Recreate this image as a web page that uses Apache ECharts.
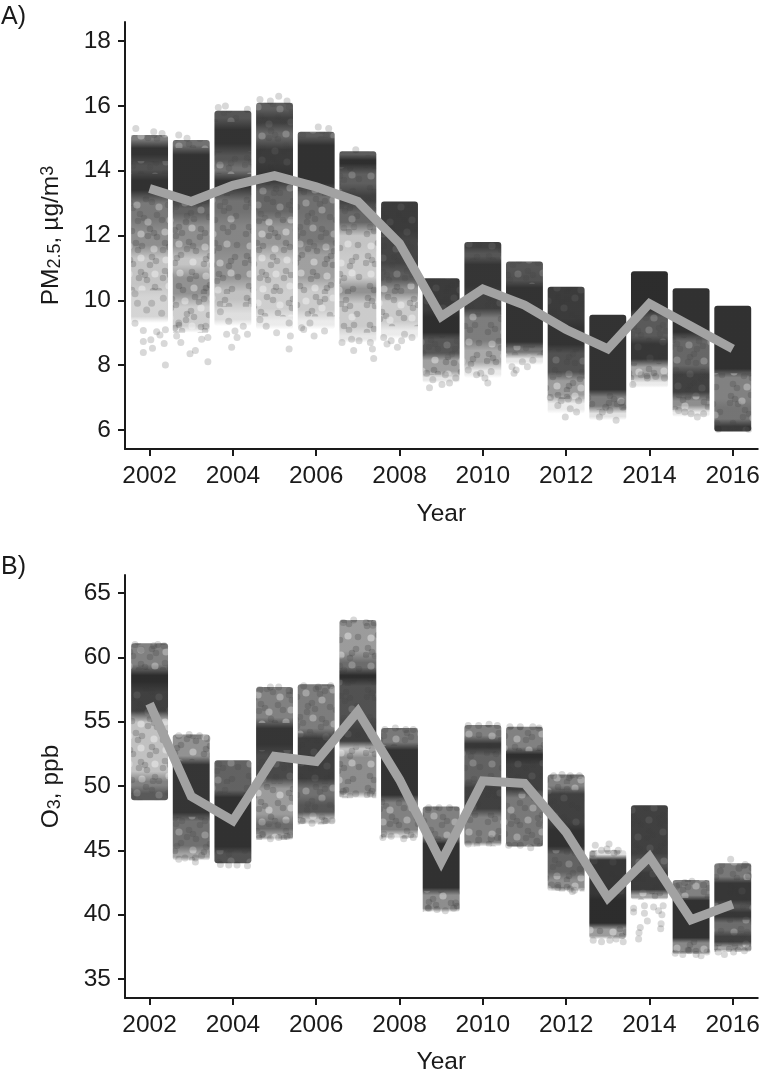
<!DOCTYPE html>
<html><head><meta charset="utf-8">
<style>html,body{margin:0;padding:0;background:#fff}#c{width:763px;height:1078px}</style>
<script src="https://cdn.jsdelivr.net/npm/echarts@6/dist/echarts.min.js"></script>
</head><body><div id="c"></div>
<script>
const years=[2002,2003,2004,2005,2006,2007,2008,2009,2010,2011,2012,2013,2014,2015,2016];
const xTicks=[2002,2004,2006,2008,2010,2012,2014,2016];
const pmTicks=[6,8,10,12,14,16,18];
const o3Ticks=[35,40,45,50,55,60,65];
const pmMean=[13.45,13.05,13.55,13.85,13.5,13.05,11.75,9.5,10.35,9.85,9.1,8.5,9.9,9.2,8.5];
const o3Mean=[56.4,49.2,47.3,52.3,51.9,55.8,50.5,44.1,50.4,50.2,46.4,41.3,44.5,39.6,40.8];
// density bands per year, top to bottom: [high value, low value, darkness]
const pmBands=[
[[15.1,14.9,.6],[14.9,14.3,.94],[14.3,13.9,.8],[13.9,13.2,.95],[13.2,12.3,.62],[12.3,11.5,.52],[11.5,10.3,.36],[10.3,9.3,.26]],
[[14.95,14.7,.65],[14.7,13,.94],[13,12.5,.72],[12.5,11.5,.52],[11.5,10.9,.36],[10.9,10,.5],[10,9,.3]],
[[15.85,15.5,.78],[15.5,14.6,.94],[14.6,14.2,.78],[14.2,13.9,.65],[13.9,13.3,.94],[13.3,12.5,.65],[12.5,11.5,.56],[11.5,10.5,.5],[10.5,9.8,.38],[9.8,9.2,.2]],
[[16.1,15.8,.74],[15.8,15.3,.88],[15.3,14.9,.7],[14.9,14,.9],[14,13.6,.94],[13.6,12.5,.7],[12.5,11.5,.48],[11.5,10.5,.35],[10.5,9.5,.3],[9.5,9.1,.12]],
[[15.2,15,.75],[15,13.4,.95],[13.4,12.5,.66],[12.5,11.6,.62],[11.6,10.5,.44],[10.5,9.5,.32],[9.5,9.1,.12]],
[[14.6,14.45,.75],[14.45,14.1,.96],[14.1,13.4,.74],[13.4,12.9,.88],[12.9,12.2,.7],[12.2,11.5,.36],[11.5,10.5,.32],[10.5,10.1,.5],[10.1,9,.32],[9,8.7,.15]],
[[13.05,12,.9],[12,11,.86],[11,10.5,.76],[10.5,10.1,.52],[10.1,9.2,.32],[9.2,8.8,.12]],
[[10.68,9.6,.9],[9.6,8.9,.96],[8.9,8.26,.78],[8.26,7.7,.44],[7.7,7.45,.15]],
[[11.8,11.55,.88],[11.55,11.25,.78],[11.25,10.3,.93],[10.3,9.6,.88],[9.6,8.6,.6],[8.6,7.95,.4],[7.95,7.6,.12]],
[[11.2,10.85,.78],[10.85,10.5,.8],[10.5,8.6,.94],[8.6,8.3,.64],[8.3,8,.14]],
[[10.42,9.3,.9],[9.3,8.5,.94],[8.5,7.65,.8],[7.65,6.95,.46],[6.95,6.5,.12]],
[[9.55,7.13,.94],[7.13,6.62,.6],[6.62,6.3,.18]],
[[10.9,9.6,.97],[9.6,8.78,.76],[8.78,8.06,.92],[8.06,7.54,.42],[7.54,7.3,.12]],
[[10.37,8.88,.95],[8.88,7.85,.7],[7.85,7.03,.88],[7.03,6.62,.52],[6.62,6.4,.12]],
[[9.83,7.75,.95],[7.75,6.82,.58],[6.82,6.2,.64],[6.2,5.95,.9]]
];
const o3Bands=[
[[61.1,59.03,.58],[59.03,57.7,.97],[57.7,55.4,.88],[55.4,50.7,.38],[50.7,49.7,.58],[49.7,48.9,.76]],
[[54,52,.5],[52,49.2,.93],[49.2,47.6,.93],[47.6,45,.66],[45,44.2,.42]],
[[52,49.4,.72],[49.4,45,.95],[45,44,.8]],
[[57.7,54.9,.58],[54.9,52.8,.93],[52.8,50.2,.84],[50.2,47.4,.46],[47.4,46.3,.68],[46.3,45.8,.4]],
[[57.9,54.1,.6],[54.1,50.2,.89],[50.2,48.9,.66],[48.9,47.6,.78],[47.6,47,.36]],
[[62.9,60,.46],[60,58.8,.68],[58.8,58.25,.97],[58.25,54.9,.8],[54.9,53,.88],[53,52.7,.36],[52.7,49.05,.52]],
[[54.5,53.1,.62],[53.1,49,.94],[49,46.3,.58],[46.3,45.9,.3]],
[[48.4,45.8,.58],[45.8,41.8,.95],[41.8,40.2,.52]],
[[54.75,53.6,.58],[53.6,52.7,.92],[52.7,50.2,.72],[50.2,47.9,.88],[47.9,45.3,.58]],
[[54.6,52.7,.58],[52.7,52,.96],[52,49.4,.88],[49.4,45.3,.62]],
[[50.9,49.7,.58],[49.7,46.85,.88],[46.85,45,.95],[45,43,.72],[43,41.8,.52]],
[[45,44.5,.2],[44.5,41.4,.92],[41.4,39.1,.97],[39.1,38.1,.46]],
[[48.5,44.5,.88],[44.5,43.5,.8],[43.5,41.7,.9],[41.7,41.15,.42]],
[[42.7,41.3,.58],[41.3,38,.95],[38,36.9,.55]],
[[44,42.7,.62],[42.7,40.9,.92],[40.9,40.4,.78],[40.4,39.6,.92],[39.6,38.55,.68],[38.55,37.65,.88],[37.65,37.1,.42]]
];
// loose individual points: [year offset, value]
const pmDots=[
[2002,[[-.33,15.3],[.1,15.2],[.3,15.15],[-.15,8.39],[.07,8.52],[.38,8],[-.15,8.73],[.03,8.78],[.17,9.03],[.38,9.09],[-.15,9.07],[-.35,9.29],[.29,9.6],[-.07,9.7],[-.29,9.91],[.05,9.91],[-.35,10.2],[.33,10.06],[.25,8.93],[.35,8.67]]],
[2003,[[-.3,15.1],[-.1,15],[-.25,8.7],[-.03,8.35],[.1,8.45],[.4,8.1],[-.35,8.9],[.25,8.8],[.4,8.85],[.35,9.2],[-.3,9.3]]],
[2004,[[-.35,15.95],[-.18,16],[.35,15.9],[-.03,8.55],[.1,8.85],[.35,8.95],[-.15,8.95],[.25,9.2],[-.3,9.65],[-.1,9.35],[.05,9.05]]],
[2005,[[-.35,16.2],[-.1,16.15],[.1,16.3],[.3,16.15],[-.2,9.2],[.35,8.5],[.38,8.9],[-.35,9.4],[.05,9],[.35,9.3]]],
[2006,[[.05,15.35],[.3,15.3],[-.3,9.1],[-.05,8.9],[.2,9.05],[-.15,9.3],[-.35,9.15]]],
[2007,[[-.05,14.65],[-.38,8.7],[-.15,8.8],[-.1,8.45],[.03,8.75],[.38,8.2],[.35,8.5],[.3,8.7]]],
[2008,[[-.38,8.85],[-.3,8.65],[-.2,8.75],[.05,8.75],[-.05,8.55],[.3,8.85],[.12,8.95]]],
[2009,[[-.28,7.3],[.02,7.4],[.2,7.45],[-.2,7.55],[-.35,7.75],[.1,7.7],[.35,7.6]]],
[2010,[[-.35,7.85],[-.15,7.7],[.05,7.6],[.12,7.45],[-.05,7.75],[.2,7.8]]],
[2011,[[-.3,7.95],[-.2,7.85],[-.25,7.75],[-.05,8.1],[.07,7.95],[.2,8.15]]],
[2012,[[-.02,6.4],[.1,6.65],[.25,6.55],[-.38,7],[-.2,6.75],[-.12,6.9],[.05,6.95],[.3,6.9]]],
[2013,[[-.2,6.4],[-.13,6.55],[-.05,6.7],[.05,6.6],[.2,6.3],[.36,6.7],[.33,6.85]]],
[2014,[[-.4,7.4],[-.2,7.7],[-.05,7.6],[.15,7.65],[.36,7.6]]],
[2015,[[-.3,6.6],[-.15,6.55],[0,6.5],[.15,6.4],[.3,6.5]]],
[2016,[[-.35,6.02],[.38,6.02]]]
];
const o3Dots=[
[2002,[[-.35,61],[-.2,60.6],[.1,60.9],[.2,61],[.35,60.9]]],
[2003,[[-.3,53.9],[-.05,54],[.2,53.9],[.38,53.7],[-.3,44.3],[-.15,44.4],[.1,44.1],[.1,44.4],[.25,44.6]]],
[2004,[[-.3,43.9],[-.1,43.85],[.1,43.85],[.35,43.8]]],
[2005,[[-.35,57.5],[-.1,57.7],[.1,57.7],[.35,57.4],[-.3,46.2],[-.1,45.9],[.1,46],[.3,46.1]]],
[2006,[[-.3,57.8],[.05,57.7],[.35,57.8],[-.35,47.3],[-.1,47.1],[.2,47.3],[.38,47.3]]],
[2007,[[-.35,62.7],[-.1,62.9],[.2,62.7],[.36,62.5],[-.35,49.6],[-.05,49.4],[.3,49.4]]],
[2008,[[-.35,54.4],[-.1,54.5],[.15,54.4],[.33,54.4],[-.4,46],[-.2,46.1],[.1,45.9],[.33,46]]],
[2009,[[-.3,48.3],[-.05,48.3],[.2,48.3],[.3,40.5],[-.3,40.5],[-.1,40.4],[.1,40.3],[.35,40.9]]],
[2010,[[-.35,54.7],[-.1,54.7],[.15,54.8],[.35,54.7],[-.35,45.5],[-.1,45.8],[.2,45.9],[.35,46]]],
[2011,[[-.35,54.6],[-.1,54.6],[.2,54.6],[.35,54.5],[-.38,45.4],[-.1,45.4],[.15,45.2],[.3,45.7]]],
[2012,[[-.3,50.8],[-.1,50.9],[.1,50.8],[.32,50.8],[-.35,42.3],[-.2,42.1],[.1,42],[.15,41.8],[.2,41.9]]],
[2013,[[-.3,45.4],[-.15,45],[-.02,45.1],[.03,45.5],[.25,45],[.15,44.8],[-.35,44.7],[-.35,38],[-.15,37.9],[.05,38],[.2,38.1],[.37,37.9]]],
[2014,[[-.38,40.5],[-.38,40.2],[-.12,40.7],[-.12,40.1],[-.05,39.5],[-.22,39],[-.25,38.6],[-.26,38.1],[.1,40.6],[.22,40.3],[.3,40],[.28,39.3],[.33,40.7],[.27,38.9]]],
[2015,[[-.35,42.2],[-.15,42.5],[.02,42.6],[.3,42.3],[-.38,37],[-.2,36.9],[-.05,37.2],[.12,36.9],[.24,36.8],[.38,37.1]]],
[2016,[[-.05,44.3],[.15,43.6],[.3,43.9],[-.3,43.4],[.38,43],[-.35,37.1],[-.2,36.9],[.02,37.1],[.28,37.2],[.37,37.4]]]
];
// fill texture (a style only, not data): uneven clumps for the mottled look of overlapping points
const mottleDark=[[5,4],[9,7],[4,11],[12,12],[25,3],[31,6],[47,9],[51,5],[55,11],[50,14],[74,3],[78,8],[83,5],[99,10],[104,6],[108,12],[103,15],[19,18],[23,22],[17,25],[36,19],[41,24],[66,20],[70,17],[73,23],[65,26],[88,21],[94,24],[115,20],[7,31],[11,35],[4,38],[29,33],[33,37],[27,40],[36,41],[54,34],[58,31],[61,37],[55,40],[80,33],[84,37],[79,41],[102,32],[107,36],[112,31],[15,47],[21,50],[17,54],[44,47],[48,51],[42,54],[68,46],[72,50],[66,53],[75,55],[94,47],[98,52],[92,55],[116,49],[5,60],[9,64],[3,67],[12,68],[31,61],[35,65],[29,69],[56,62],[60,59],[54,67],[85,63],[89,60],[83,68],[91,69],[110,65],[114,61],[108,70],[20,76],[24,79],[18,82],[26,84],[44,75],[49,79],[42,82],[71,76],[75,80],[69,83],[98,78],[102,82],[96,85],[117,81],[7,90],[11,94],[34,91],[38,95],[32,95],[58,90],[62,94],[85,92],[89,89],[83,96],[111,93],[106,96]];
const mottleLight=[[16,9],[38,11],[64,7],[91,4],[27,26],[49,24],[80,14],[110,23],[20,38],[44,36],[71,32],[92,38],[8,50],[33,53],[58,48],[84,51],[106,48],[20,62],[45,64],[72,66],[99,67],[8,78],[34,78],[59,77],[85,80],[110,77],[21,93],[48,90],[73,92],[97,94]];
function makeMottle(){
  const c=document.createElement('canvas');c.width=121;c.height=98;const g=c.getContext('2d');
  g.filter='blur(0.7px)';
  mottleDark.forEach(function(p){g.fillStyle='rgba(30,30,30,.2)';g.beginPath();g.arc(p[0],p[1],3.3,0,7);g.fill();});
  mottleLight.forEach(function(p){g.fillStyle='rgba(255,255,255,.38)';g.beginPath();g.arc(p[0],p[1],3.6,0,7);g.fill();});
  return c;
}
const mottle=makeMottle();
const HALF=0.443;
function bandAlpha(d){return d>=.4?d:d*.75;}
function bandRender(bands){
  return function(params,api){
    const b=bands[params.dataIndex];
    const hi=b[0][0], lo=b[b.length-1][1];
    const x=api.value(0);
    const p0=api.coord([x-HALF,hi]), p1=api.coord([x+HALF,lo]);
    const H=hi-lo, stops=[], kids=[];
    b.forEach(function(r){
      const m=Math.min(.035*H,.35*(r[0]-r[1]));
      const col='rgba(38,38,38,'+bandAlpha(r[2])+')';
      stops.push({offset:(hi-r[0]+m)/H,color:col});
      stops.push({offset:(hi-r[1]-m)/H,color:col});
    });
    const last=b[b.length-1][2];
    if(last<.6) stops.push({offset:1,color:'rgba(38,38,38,0)'});
    kids.push({type:'rect',shape:{x:p0[0],y:p0[1],width:p1[0]-p0[0],height:p1[1]-p0[1],r:3},
      style:{fill:new echarts.graphic.LinearGradient(0,0,0,1,stops)}});
    b.forEach(function(r,k){
      if(r[2]>=.93||(k===b.length-1&&r[2]<.3)) return;
      const a=api.coord([x-HALF,r[0]]), e=api.coord([x+HALF,r[1]]);
      kids.push({type:'rect',shape:{x:a[0],y:a[1],width:e[0]-a[0],height:e[1]-a[1]},
        style:{fill:{image:mottle,repeat:'repeat'},opacity:Math.min(1,(.98-r[2])*2)}});
    });
    return {type:'group',children:kids};
  };
}
function flat(d){const o=[];d.forEach(function(g){g[1].forEach(function(p){o.push([g[0]+p[0],p[1]]);});});return o;}
const ink='#1a1a1a', FS=24.5, F='"Liberation Sans",Arial,sans-serif';
function xA(i,gap){return {gridIndex:i,type:'value',min:2001.41,max:2016.6,name:'Year',nameLocation:'middle',nameGap:gap,
  nameTextStyle:{fontSize:FS,color:ink,fontFamily:F},
  axisLine:{show:true,onZero:false,lineStyle:{color:ink,width:2}},
  axisTick:{show:true,length:7,customValues:xTicks,lineStyle:{color:ink,width:2}},
  axisLabel:{fontSize:FS,color:ink,fontFamily:F,margin:15,customValues:xTicks,formatter:function(v){return String(v);}},
  splitLine:{show:false}};}
function yA(i,mn,mx,t,name,gap){return {gridIndex:i,type:'value',min:mn,max:mx,name:name,nameLocation:'middle',nameGap:gap,nameRotate:90,
  nameTextStyle:{fontSize:FS,color:ink,fontFamily:F,rich:{n:{fontSize:FS,color:ink,fontFamily:F},
    g:{fontSize:FS,color:ink,fontFamily:F,padding:[0,0,0,6]},
    s:{fontSize:18,color:ink,fontFamily:F,verticalAlign:'bottom',lineHeight:16,padding:[10,0,0,0]},
    u:{fontSize:18,color:ink,fontFamily:F,verticalAlign:'top',lineHeight:16,padding:[0,0,12,0]}}},
  axisLine:{show:true,onZero:false,lineStyle:{color:ink,width:2}},
  axisTick:{show:true,length:7,customValues:t,lineStyle:{color:ink,width:2}},
  axisLabel:{fontSize:FS,color:ink,fontFamily:F,margin:14,customValues:t},
  splitLine:{show:false}};}
function panel(i,bands,dots,mean){
  return [
   {type:'custom',xAxisIndex:i,yAxisIndex:i,renderItem:bandRender(bands),data:years.map(function(y){return [y];}),encode:{x:0},silent:true,z:2,clip:false},
   {type:'scatter',xAxisIndex:i,yAxisIndex:i,data:flat(dots),symbolSize:7,itemStyle:{color:'rgba(35,35,35,.22)'},silent:true,z:3,clip:false},
   {type:'line',xAxisIndex:i,yAxisIndex:i,data:years.map(function(y,k){return [y,mean[k]];}),showSymbol:false,smooth:false,
    lineStyle:{color:'#a2a2a2',width:9,cap:'butt',join:'miter'},silent:true,z:4}
  ];
}
const chart=echarts.init(document.getElementById('c'),null,{renderer:'canvas'});
chart.setOption({
 animation:false,backgroundColor:'#fff',
 title:[{text:'A)',left:-4,top:0,textStyle:{fontSize:25,fontWeight:'normal',color:ink,fontFamily:F}},
        {text:'B)',left:-4,top:550,textStyle:{fontSize:25,fontWeight:'normal',color:ink,fontFamily:F}}],
 grid:[{left:125,top:22,width:634,height:427},{left:125,top:575,width:634,height:423}],
 xAxis:[xA(0,53),xA(1,52)],
 yAxis:[yA(0,5.41,18.59,pmTicks,'{n|PM}{s|2.5}{n|,}{g|µg/m}{u|3}',61),yA(1,33.52,66.4,o3Ticks,'{n|O}{s|3}{n|, ppb}',61)],
 series:panel(0,pmBands,pmDots,pmMean).concat(panel(1,o3Bands,o3Dots,o3Mean))
});
</script></body></html>
